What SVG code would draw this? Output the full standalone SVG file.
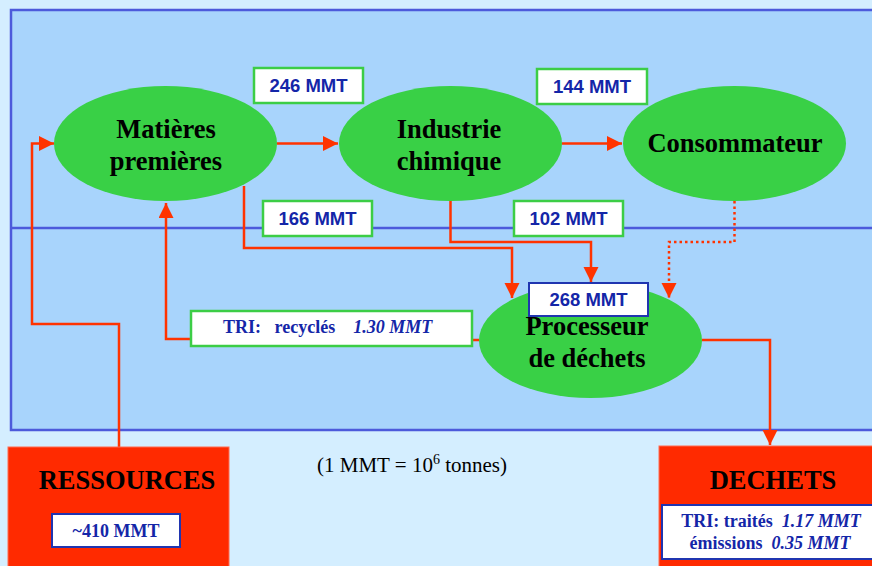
<svg xmlns="http://www.w3.org/2000/svg" width="872" height="566" viewBox="0 0 872 566">
<defs>
<marker id="ah" markerUnits="userSpaceOnUse" markerWidth="16" markerHeight="16" refX="15" refY="7.5" orient="auto">
<path d="M0,0 L15,7.5 L0,15 z" fill="#FF3300"/>
</marker>
<style>
.node{fill:#39D046;}
.nt{font-family:"Liberation Serif",serif;font-weight:bold;font-size:26.5px;fill:#000;text-anchor:middle;}
.lb{fill:#fff;stroke:#3CCD46;stroke-width:2.5;}
.lbb{fill:#fff;stroke:#2035B0;stroke-width:2;}
.lt{font-family:"Liberation Sans",Arial,sans-serif;font-weight:bold;font-size:18.5px;fill:#1426A8;text-anchor:middle;}
.st{font-family:"Liberation Serif",serif;font-weight:bold;font-size:18px;fill:#1426A8;white-space:pre;}
.c{fill:none;stroke:#FF3300;stroke-width:2.5;}
</style>
</defs>
<rect x="0" y="0" width="872" height="566" fill="#D4EEFF"/>
<rect id="panel" x="11" y="10" width="870" height="420" fill="#A8D4FC" stroke="#4C5ADB" stroke-width="2.5"/>
<line x1="11" y1="228" x2="872" y2="228" stroke="#4C5ADB" stroke-width="2.5"/>

<g id="connectors">
<path class="c" d="M277,143.5 H338" marker-end="url(#ah)"/>
<path class="c" d="M562,143.5 H622" marker-end="url(#ah)"/>
<path class="c" d="M244,186 V248 H512 V298" marker-end="url(#ah)"/>
<path class="c" d="M450.5,201 V242 H591 V282" marker-end="url(#ah)"/>
<path class="c" d="M734.5,201 V242 H669 V298" stroke-dasharray="2.5,3" marker-end="url(#ah)"/>
<path class="c" d="M479,340 H472"/>
<path class="c" d="M191,339 H166 V203" marker-end="url(#ah)"/>
<path class="c" d="M119,447 V324 H32 V143.5 H54" marker-end="url(#ah)"/>
<path class="c" d="M702,340 H770 V445" marker-end="url(#ah)"/>
</g>

<g id="matieres">
<ellipse class="node" cx="165.5" cy="143.5" rx="111.5" ry="57.5"/>
<text class="nt" x="166" y="138">Matières</text>
<text class="nt" x="166" y="170">premières</text>
</g>
<g id="industrie">
<ellipse class="node" cx="450.5" cy="143.5" rx="111.5" ry="57.5"/>
<text class="nt" x="449" y="138">Industrie</text>
<text class="nt" x="449" y="170">chimique</text>
</g>
<g id="consommateur">
<ellipse class="node" cx="734.5" cy="143.5" rx="111.5" ry="57.5"/>
<text class="nt" x="735" y="152">Consommateur</text>
</g>
<g id="processeur">
<ellipse class="node" cx="590.5" cy="340.5" rx="111.5" ry="57.5"/>
<text class="nt" x="587" y="335">Processeur</text>
<text class="nt" x="587" y="367">de déchets</text>
</g>

<g id="l246"><rect class="lb" x="254" y="68" width="109" height="35"/><text class="lt" x="308.5" y="92">246 MMT</text></g>
<g id="l144"><rect class="lb" x="537" y="69" width="110" height="35"/><text class="lt" x="592" y="93">144 MMT</text></g>
<g id="l166"><rect class="lb" x="263" y="201" width="109" height="35"/><text class="lt" x="317.5" y="225">166 MMT</text></g>
<g id="l102"><rect class="lb" x="514" y="201" width="109" height="35"/><text class="lt" x="568.5" y="225">102 MMT</text></g>
<g id="l268"><rect class="lbb" x="529" y="283" width="119" height="33"/><text class="lt" x="588.5" y="306">268 MMT</text></g>
<g id="ltri"><rect class="lb" x="191" y="311" width="281" height="35"/><text class="st" x="223" y="333" xml:space="preserve">TRI:   recyclés    <tspan font-style="italic">1.30 MMT</tspan></text></g>

<g id="ressources">
<rect x="8" y="447" width="221" height="125" fill="#FF2A00" stroke="#FF6A50" stroke-width="1"/>
<text class="nt" x="127" y="489">RESSOURCES</text>
<rect class="lbb" x="52" y="514" width="128" height="33"/>
<text class="st" x="116" y="537" text-anchor="middle">~410 MMT</text>
</g>

<g id="dechets">
<rect x="659" y="446" width="220" height="125" fill="#FF2A00" stroke="#FF6A50" stroke-width="1"/>
<text class="nt" x="773" y="489">DECHETS</text>
<rect class="lbb" x="662" y="505" width="215" height="54"/>
<text class="st" x="771" y="527" text-anchor="middle" xml:space="preserve">TRI: traités  <tspan font-style="italic">1.17 MMT</tspan></text>
<text class="st" x="770" y="549" text-anchor="middle" xml:space="preserve">émissions  <tspan font-style="italic">0.35 MMT</tspan></text>
</g>

<text x="317" y="472" font-family="Liberation Serif,serif" font-size="21" fill="#000">(1 MMT = 10<tspan font-size="14" dy="-8">6</tspan><tspan dy="8"> tonnes)</tspan></text>
</svg>
